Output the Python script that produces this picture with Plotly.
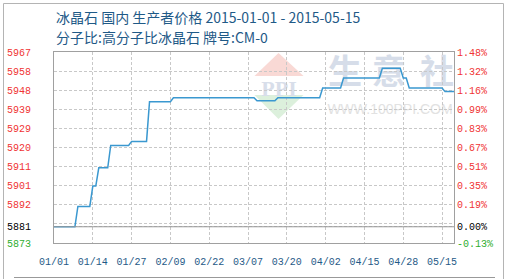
import pandas as pd
import plotly.graph_objects as go

# Cryolite producer price, 2015-01-01 .. 2015-05-15 (change points)
dates = ["2015-01-01", "2015-01-08", "2015-01-09", "2015-01-13", "2015-01-14",
         "2015-01-15", "2015-01-16", "2015-01-19", "2015-01-20", "2015-01-26",
         "2015-01-27", "2015-02-01", "2015-02-02", "2015-02-09", "2015-02-10",
         "2015-03-09", "2015-03-10", "2015-03-16", "2015-03-17", "2015-03-31",
         "2015-04-01", "2015-04-07", "2015-04-08", "2015-04-20", "2015-04-21",
         "2015-04-27", "2015-04-28", "2015-04-29", "2015-04-30", "2015-05-11",
         "2015-05-12", "2015-05-15"]
prices = [5881, 5881, 5891, 5891, 5901,
          5901, 5910, 5910, 5921, 5921,
          5923, 5923, 5942.5, 5942.5, 5944.5,
          5944.5, 5943, 5943, 5944.5, 5944.5,
          5949.3, 5949.3, 5954.2, 5954.2, 5959,
          5959, 5954.2, 5954.2, 5949.3, 5949.3,
          5947.5, 5947.5]

base_price = 5881
y_min, y_max = 5873, 5967

x_tick_labels = ["01/01", "01/14", "01/27", "02/09", "02/22", "03/07",
                 "03/20", "04/02", "04/15", "04/28", "05/15"]
left_tick_labels = ["5873", "", "5892", "5901", "5911", "5920", "5929",
                    "5939", "5948", "5958", "5967"]
right_tick_labels = ["-0.13%", "", "0.19%", "0.35%", "0.51%", "0.67%",
                     "0.83%", "0.99%", "1.16%", "1.32%", "1.48%"]

title_line1 = "冰晶石 国内 生产者价格 2015-01-01 - 2015-05-15"
title_line2 = "分子比:高分子比冰晶石 牌号:CM-0"

RED = "#f03434"
GREEN = "#2fae2f"
BLUE_TEXT = "#1f5a87"
GRID = "#c8c8c8"
FRAME = "#a0a0a0"

W, H = 505, 279
ML, MR, MT, MB = 54, 51, 52, 36
PW, PH = W - ML - MR, H - MT - MB


def px(x):
    return (x - ML) / PW


def py(y):
    return (H - MB - y) / PH


dt = pd.to_datetime(dates)
n_grid = len(left_tick_labels)
step = (y_max - y_min) / (n_grid - 1)
grid_vals = [y_min + i * step for i in range(n_grid)]

left_vals = grid_vals + [base_price]
left_text = [f'<span style="color:{GREEN}">{t}</span>' if t == "5873" else t
             for t in left_tick_labels] + ['<span style="color:#000">5881</span>']
right_text = [f'<span style="color:{GREEN}">{t}</span>' if t.startswith("-") else t
              for t in right_tick_labels] + ['<span style="color:#000">0.00%</span>']

x_ticks = pd.date_range(dt[0], periods=len(x_tick_labels), freq="13D")

fig = go.Figure()
fig.add_trace(go.Scatter(x=dt, y=prices, mode="lines",
                         line=dict(color="#3a98d0", width=1.5),
                         hoverinfo="skip", showlegend=False))
# invisible trace to activate the right-hand axis
fig.add_trace(go.Scatter(x=[dt[0]], y=[base_price], yaxis="y2", mode="markers",
                         marker=dict(opacity=0), hoverinfo="skip", showlegend=False))

tick_font = dict(family="Liberation Mono", size=10, color=RED)

fig.update_layout(
    width=W, height=H,
    margin=dict(l=ML, r=MR, t=MT, b=MB, autoexpand=False),
    paper_bgcolor="white", plot_bgcolor="white",
    xaxis=dict(type="date", range=[dt[0], dt[-1]], automargin=False,
               tickvals=x_ticks, ticktext=x_tick_labels,
               tickfont=dict(family="Liberation Mono", size=10, color=BLUE_TEXT),
               showgrid=True, gridcolor=GRID, griddash="3px,2px", gridwidth=1,
               showline=True, linecolor=FRAME, linewidth=1, mirror=True,
               ticks="", ticklabelstandoff=9, zeroline=False, fixedrange=True),
    yaxis=dict(range=[y_min, y_max], tickvals=left_vals, ticktext=left_text,
               automargin=False,
               tickfont=tick_font, showgrid=True, gridcolor=GRID,
               griddash="3px,2px", gridwidth=1,
               showline=True, linecolor=FRAME, linewidth=1, mirror=True,
               ticks="", ticklabelstandoff=20, zeroline=False),
    yaxis2=dict(range=[y_min, y_max], overlaying="y", side="right",
                automargin=False,
                tickvals=left_vals, ticktext=right_text, tickfont=tick_font,
                showgrid=False, showline=False, ticks="", zeroline=False,
                ticklabelstandoff=2),
)

# base price reference line (0.00%)
fig.add_shape(type="line", xref="paper", yref="y", x0=0, x1=1,
              y0=base_price, y1=base_price, line=dict(color="#999999", width=1.2))

# watermark: triangles, PPI, 生意社, site address
fig.add_shape(type="path", xref="paper", yref="paper", layer="below",
              path=f"M {px(278.5)} {py(53)} L {px(303.5)} {py(76)} L {px(254.5)} {py(76)} Z",
              fillcolor="#f9d9d5", line=dict(width=0))
fig.add_shape(type="path", xref="paper", yref="paper", layer="below",
              path=f"M {px(254.5)} {py(95)} L {px(303.5)} {py(95)} L {px(278.5)} {py(119)} Z",
              fillcolor="#dcf0dc", line=dict(width=0))


def watermark_text(x0, x1, y0, y1, text, size, color, family, weight="normal"):
    fig.add_shape(type="rect", xref="paper", yref="paper", layer="below",
                  x0=px(x0), x1=px(x1), y0=py(y1), y1=py(y0),
                  line=dict(width=0), fillcolor="rgba(0,0,0,0)",
                  label=dict(text=text, textposition="middle center",
                             font=dict(size=size, color=color, family=family,
                                       weight=weight)))


watermark_text(255, 303, 77, 95, "PPI", 22, "#d8deea", "Liberation Serif", "bold")
watermark_text(326, 364, 56, 92, "生", 34, "#d6dde9", "Noto Sans CJK SC", "bold")
watermark_text(370, 408, 56, 92, "意", 34, "#d6dde9", "Noto Sans CJK SC", "bold")
watermark_text(418, 456, 56, 92, "社", 34, "#d6dde9", "Noto Sans CJK SC", "bold")
watermark_text(326, 454, 100, 116, "WWW.100PPI.COM", 14, "#e2e2e2", "Liberation Sans")

# titles
fig.add_annotation(text=title_line1, xref="paper", yref="paper",
                   x=px(54), y=py(17), xanchor="left", yanchor="middle",
                   showarrow=False,
                   font=dict(family="Noto Sans CJK SC", size=14, color=BLUE_TEXT))
fig.add_annotation(text=title_line2, xref="paper", yref="paper",
                   x=px(54), y=py(37), xanchor="left", yanchor="middle",
                   showarrow=False,
                   font=dict(family="Noto Sans CJK SC", size=14, color=BLUE_TEXT))

# outer frame
frame = dict(color="#b4b4b4", width=1)
fig.add_shape(type="line", xref="paper", yref="paper", x0=px(3.5), x1=px(503.5),
              y0=py(3.5), y1=py(3.5), line=frame)
fig.add_shape(type="line", xref="paper", yref="paper", x0=px(3.5), x1=px(3.5),
              y0=py(3.5), y1=py(280), line=frame)
fig.add_shape(type="line", xref="paper", yref="paper", x0=px(503.5), x1=px(503.5),
              y0=py(3.5), y1=py(280), line=frame)
fig.add_shape(type="line", xref="paper", yref="paper", x0=px(14), x1=px(495),
              y0=py(277.5), y1=py(277.5), line=dict(color="#999999", width=1))

fig.write_html("out.html")
